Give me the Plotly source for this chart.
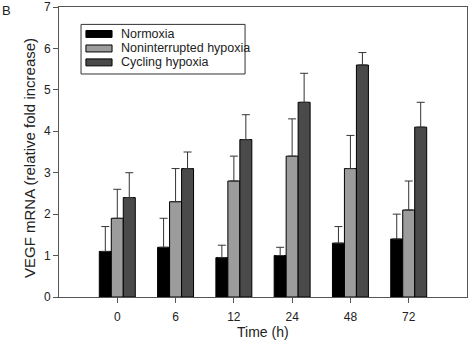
import plotly.graph_objects as go

categories = ["0", "6", "12", "24", "48", "72"]
normoxia = [1.1, 1.2, 0.95, 1.0, 1.3, 1.4]
normoxia_err = [0.6, 0.7, 0.3, 0.2, 0.4, 0.6]
noninterrupted = [1.9, 2.3, 2.8, 3.4, 3.1, 2.1]
noninterrupted_err = [0.7, 0.8, 0.6, 0.9, 0.8, 0.7]
cycling = [2.4, 3.1, 3.8, 4.7, 5.6, 4.1]
cycling_err = [0.6, 0.4, 0.6, 0.7, 0.3, 0.6]

series = [
    ("Normoxia", normoxia, normoxia_err, "#000000"),
    ("Noninterrupted hypoxia", noninterrupted, noninterrupted_err, "#9c9c9c"),
    ("Cycling hypoxia", cycling, cycling_err, "#4a4a4a"),
]

fig = go.Figure()
for name, vals, errs, color in series:
    fig.add_trace(go.Bar(
        x=categories, y=vals, name=name,
        marker=dict(color=color, line=dict(color="#000000", width=1)),
        error_y=dict(type="data", symmetric=False, array=errs,
                     arrayminus=[0] * len(errs), color="#333333",
                     thickness=1, width=4),
    ))

font = "Liberation Sans, Arial, sans-serif"

# manual legend (paper coordinates)
shapes = [dict(type="rect", xref="paper", yref="paper",
               x0=0.054, x1=0.456, y0=0.769, y1=0.940,
               line=dict(color="#333333", width=1), fillcolor="white", layer="above")]
annotations = []
row_y = [0.907, 0.857, 0.809]
for (name, _, _, color), yy in zip(series, row_y):
    shapes.append(dict(type="rect", xref="paper", yref="paper",
                       x0=0.066, x1=0.130, y0=yy - 0.012, y1=yy + 0.012,
                       line=dict(color="#000000", width=1), fillcolor=color, layer="above"))
    annotations.append(dict(text=name, x=0.148, y=yy, xref="paper", yref="paper",
                            xanchor="left", yanchor="middle", showarrow=False,
                            font=dict(size=12.5, color="#222222")))
annotations.append(dict(text="B", x=0, y=1, xref="paper", yref="paper",
                        xanchor="left", yanchor="top", showarrow=False,
                        font=dict(size=13, color="#222222"),
                        xshift=-59, yshift=6))
annotations.append(dict(text="VEGF mRNA (relative fold increase)", x=0, y=0.5,
                        xref="paper", yref="paper", textangle=-90,
                        xanchor="center", yanchor="middle", showarrow=False,
                        font=dict(size=15, color="#222222"),
                        xshift=-30, yshift=-6))
annotations.append(dict(text="Time (h)", x=0.5, y=0,
                        xref="paper", yref="paper",
                        xanchor="center", yanchor="middle", showarrow=False,
                        font=dict(size=14, color="#222222"),
                        xshift=0, yshift=-35))

fig.update_layout(
    width=474, height=341,
    margin=dict(l=59, r=7, t=7, b=44),
    barmode="group", bargap=0.383, bargroupgap=0,
    plot_bgcolor="white", paper_bgcolor="white",
    font=dict(family=font, size=12, color="#222222"),
    showlegend=False,
    xaxis=dict(
        type="category", range=[-1, 6], automargin=False,
        showline=True, linecolor="#555555", linewidth=1, mirror=True,
        ticks="outside", ticklen=5, tickcolor="#555555",
        ticklabelstandoff=4,
        showgrid=False,
    ),
    yaxis=dict(
        range=[0, 7], dtick=1, automargin=False,
        showline=True, linecolor="#555555", linewidth=1, mirror=True,
        ticks="outside", ticklen=5, tickcolor="#555555",
        ticklabeloverflow="allow",
        showgrid=False, zeroline=False,
    ),
    shapes=shapes,
    annotations=annotations,
)

fig.write_html("out.html")
